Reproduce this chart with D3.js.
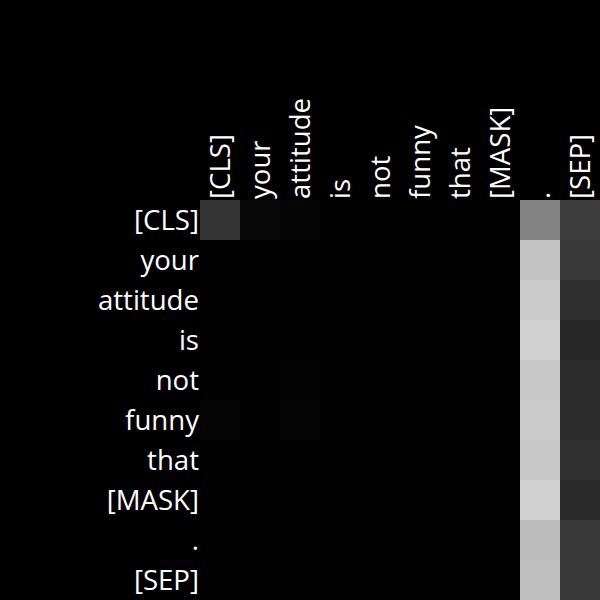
<!DOCTYPE html>
<html><head><meta charset="utf-8">
<script src="https://cdn.jsdelivr.net/npm/d3@7"></script>
<style>html,body{margin:0;padding:0;background:#000;}</style>
</head><body>
<svg id="chart" width="600" height="600"></svg>
<script>
const tokens = ["[CLS]","your","attitude","is","not","funny","that","[MASK]",".","[SEP]"];
// attention weights (rows = query tokens, cols = key tokens), read from gray levels
const row0 = [0.200,0.027,0.020,0.008,0.008,0.006,0.006,0.005,0.518,0.239];
const row1 = [0.004,0.003,0.003,0.002,0.002,0.002,0.002,0.002,0.761,0.220];
const row2 = [0.003,0.002,0.003,0.002,0.002,0.002,0.002,0.002,0.792,0.180];
const row3 = [0.003,0.002,0.003,0.002,0.002,0.002,0.002,0.002,0.824,0.149];
const row4 = [0.004,0.004,0.012,0.003,0.004,0.003,0.003,0.002,0.784,0.173];
const row5 = [0.014,0.006,0.014,0.003,0.003,0.003,0.003,0.002,0.792,0.173];
const row6 = [0.004,0.003,0.003,0.003,0.003,0.003,0.004,0.003,0.784,0.188];
const row7 = [0.003,0.002,0.002,0.002,0.002,0.002,0.002,0.002,0.824,0.165];
const row8 = [0.004,0.003,0.003,0.003,0.003,0.003,0.003,0.003,0.737,0.220];
const row9 = [0.004,0.003,0.003,0.003,0.003,0.003,0.003,0.003,0.753,0.220];
const weights = [row0,row1,row2,row3,row4,row5,row6,row7,row8,row9];

(function(){
const svg = d3.select("#chart");
const mLeft = 200, mTop = 200, size = 400;
const x = d3.scaleBand().domain(tokens.map((d,i)=>i)).range([mLeft, mLeft+size]);
const y = d3.scaleBand().domain(tokens.map((d,i)=>i)).range([mTop, mTop+size]);
const color = d3.scaleLinear().domain([0,1]).range(["#000000","#ffffff"]).clamp(true);

svg.append("rect").attr("width",600).attr("height",600).attr("fill","#000");

const cells = [];
weights.forEach((r,i)=>r.forEach((v,j)=>cells.push({i,j,v})));
svg.append("g").selectAll("rect").data(cells).join("rect")
  .attr("x", d=>x(d.j)).attr("y", d=>y(d.i))
  .attr("width", x.bandwidth()).attr("height", y.bandwidth())
  .attr("fill", d=>color(d.v));

const font = "'Open Sans', 'Noto Sans', sans-serif";
const fs = 27.6;
svg.append("g").selectAll("text").data(tokens).join("text")
  .attr("x", mLeft-1).attr("y", (d,i)=>y(i)+y.bandwidth()/2+10)
  .attr("text-anchor","end").attr("fill","#fff")
  .style("font-family", font).style("font-size", fs+"px")
  .text(d=>d);

svg.append("g").selectAll("text").data(tokens).join("text")
  .attr("transform", (d,i)=>`translate(${x(i)+x.bandwidth()/2+10},${mTop-1}) rotate(-90)`)
  .attr("text-anchor","start").attr("fill","#fff")
  .style("font-family", font).style("font-size", fs+"px")
  .text(d=>d);
})();
</script>
</body></html>
